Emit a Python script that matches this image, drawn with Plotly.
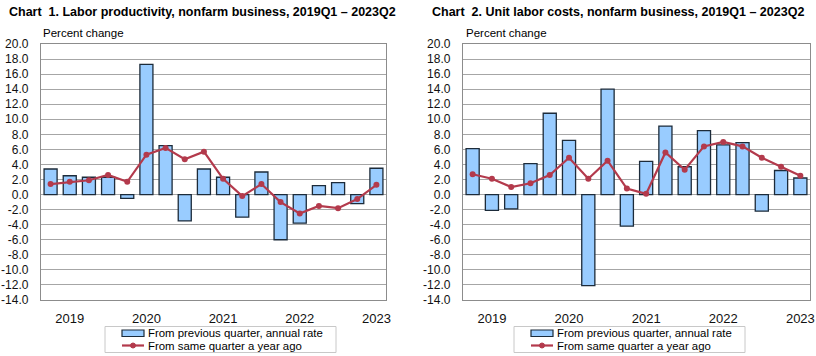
import plotly.graph_objects as go

# ---------------- data ----------------
quarters = list(range(18))  # 2019Q1 .. 2023Q2
year_ticks = [1, 5, 9, 13, 17]
year_labels = ["2019", "2020", "2021", "2022", "2023"]
y_ticks = list(range(-14, 21, 2))
y_tick_labels = ["%.1f" % v for v in y_ticks]  # plain hyphen minus, as in the source

prod_prev_q = [3.4, 2.5, 2.3, 2.3, -0.5, 17.3, 6.5, -3.5, 3.4, 2.3, -3.0, 3.0,
               -6.0, -3.8, 1.2, 1.6, -1.2, 3.5]
prod_year_ago = [1.4, 1.7, 1.9, 2.6, 1.7, 5.3, 6.2, 4.7, 5.7, 2.1, -0.2, 1.4,
                 -1.0, -2.5, -1.5, -1.8, -0.6, 1.3]

ulc_prev_q = [6.1, -2.1, -1.9, 4.1, 10.8, 7.2, -12.1, 14.0, -4.2, 4.4, 9.1, 3.7,
              8.5, 6.6, 6.9, -2.2, 3.2, 2.2]
ulc_year_ago = [2.7, 2.1, 1.0, 1.5, 2.6, 4.9, 2.1, 4.5, 0.8, 0.1, 5.6, 3.3,
                6.4, 7.0, 6.4, 4.9, 3.7, 2.5]

titles = ["Chart  1. Labor productivity, nonfarm business, 2019Q1 \u2013 2023Q2",
          "Chart  2. Unit labor costs, nonfarm business, 2019Q1 \u2013 2023Q2"]
legend_labels = ["From previous quarter, annual rate", "From same quarter a year ago"]
y_axis_note = "Percent change"

# ---------------- style ----------------
W, H = 816, 356
FONT = "Liberation Sans, Arial, sans-serif"
BAR_FILL = "#99CCFF"
BAR_EDGE = "#1C2B3A"
LINE_COL = "#B33A4C"
GRID = "#A6A6A6"


def px(x):
    return x / W


def py(y):
    return 1 - y / H


fig = go.Figure()

plots = [
    dict(x0=41, x1=386, bars=prod_prev_q, line=prod_year_ago, title_x=7, note_x=41, leg_x=105),
    dict(x0=463, x1=810, bars=ulc_prev_q, line=ulc_year_ago, title_x=430, note_x=464, leg_x=514),
]

annotations = []
shapes = []

for i, p in enumerate(plots):
    sfx = "" if i == 0 else str(i + 1)
    xa, ya = "x" + sfx, "y" + sfx
    fig.add_trace(go.Bar(
        x=quarters, y=p["bars"], xaxis=xa, yaxis=ya, width=0.68,
        marker=dict(color=BAR_FILL, line=dict(color=BAR_EDGE, width=1.3)),
        showlegend=False, name=legend_labels[0],
    ))
    fig.add_trace(go.Scatter(
        x=quarters, y=p["line"], xaxis=xa, yaxis=ya, mode="lines+markers",
        line=dict(color=LINE_COL, width=2.2),
        marker=dict(color=LINE_COL, size=6),
        showlegend=False, name=legend_labels[1],
    ))
    dom_y = [py(300), py(44)]
    fig.update_layout(**{
        "xaxis" + sfx: dict(
            domain=[px(p["x0"]), px(p["x1"])], range=[-0.5, 17.5],
            tickmode="array", tickvals=year_ticks, ticktext=year_labels,
            showgrid=False, zeroline=False, ticks="", ticklabelstandoff=6,
            tickfont=dict(family=FONT, size=13, color="#111"),
            showline=True, linecolor="#8C8C8C", linewidth=1.3, mirror=True,
            anchor=ya, fixedrange=True, automargin=False,
        ),
        "yaxis" + sfx: dict(
            domain=dom_y, range=[-14, 20], tickmode="array",
            tickvals=y_ticks, ticktext=y_tick_labels,
            showgrid=True, gridcolor=GRID, gridwidth=1.3,
            zeroline=True, zerolinecolor=GRID, zerolinewidth=1.3,
            ticks="", ticklabelstandoff=9,
            tickfont=dict(family=FONT, size=12, color="#111"),
            showline=True, linecolor="#8C8C8C", linewidth=1.3, mirror=True,
            anchor=xa, fixedrange=True, automargin=False,
        ),
    })

    # titles and axis note
    annotations.append(dict(
        text="<b>" + titles[i] + "</b>", x=px(p["title_x"]), y=py(11.5),
        xref="paper", yref="paper", xanchor="left", yanchor="middle", showarrow=False,
        font=dict(family=FONT, size=12.5, color="#000"),
    ))
    annotations.append(dict(
        text=y_axis_note, x=px(p["note_x"]), y=py(33.5),
        xref="paper", yref="paper", xanchor="left", yanchor="middle", showarrow=False,
        font=dict(family=FONT, size=11.5, color="#000"),
    ))

    # custom legend box
    lx = p["leg_x"]
    shapes.append(dict(type="rect", xref="paper", yref="paper",
                       x0=px(lx), x1=px(lx + 231), y0=py(326.5), y1=py(352.5),
                       line=dict(color="#C8C8C8", width=1), fillcolor="white"))
    shapes.append(dict(type="rect", xref="paper", yref="paper",
                       x0=px(lx + 17), x1=px(lx + 39), y0=py(330), y1=py(336.5),
                       line=dict(color=BAR_EDGE, width=1.2), fillcolor=BAR_FILL))
    shapes.append(dict(type="line", xref="paper", yref="paper",
                       x0=px(lx + 17), x1=px(lx + 39), y0=py(345.5), y1=py(345.5),
                       line=dict(color=LINE_COL, width=2.2)))
    shapes.append(dict(type="circle", xref="paper", yref="paper",
                       x0=px(lx + 25.5), x1=px(lx + 30.5), y0=py(343), y1=py(348),
                       line=dict(color=LINE_COL, width=1), fillcolor=LINE_COL))
    for k, lab in enumerate(legend_labels):
        annotations.append(dict(
            text=lab, x=px(lx + 41), y=py(333 + 13 * k),
            xref="paper", yref="paper", xanchor="left", yanchor="middle", showarrow=False,
            font=dict(family=FONT, size=11.4, color="#000"),
        ))

fig.update_layout(
    width=W, height=H, margin=dict(l=0, r=0, t=0, b=0),
    paper_bgcolor="white", plot_bgcolor="white",
    bargap=0.3, showlegend=False,
    annotations=annotations, shapes=shapes,
    font=dict(family=FONT, color="#000"),
)

fig.write_html("out.html", config={"displayModeBar": False},
               post_script="document.body.style.margin='0px';")
